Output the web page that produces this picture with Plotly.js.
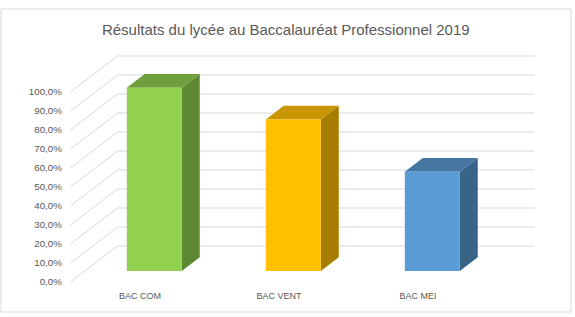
<!DOCTYPE html>
<html>
<head>
<meta charset="utf-8">
<script src="https://cdn.plot.ly/plotly-3.0.1.min.js"></script>
<style>
  html, body { margin: 0; padding: 0; background: #ffffff; }
  #chart { width: 575px; height: 317px; }
</style>
</head>
<body>
<div id="chart"></div>
<script>
// Results per diploma track (share of candidates passing)
const categories = ["BAC COM", "BAC VENT", "BAC MEI"];
const passRates = [0.965, 0.798, 0.523];
const frontColors = ["#92D050", "#FFC000", "#5B9BD5"];
const topColors = ["#6F9E3C", "#C79600", "#4676A2"];
const sideColors = ["#5E8832", "#A67D00", "#3A6388"];
const valueTicks = [0, 0.1, 0.2, 0.3, 0.4, 0.5, 0.6, 0.7, 0.8, 0.9, 1.0];

// Page geometry (pixels)
const W = 575, H = 317;
const L = 66, R = 548, T = 40, B = 289;
// Front plane: x pixel = X0 + XS * x ; y pixel = Y0 - YS * v
const X0 = 140, XS = 139, Y0 = 282, YS = 190;
// Oblique depth offset of the back wall, in data units
const DX = 47 / XS, DY = 36 / YS;
// Depth span occupied by the columns (fraction of the full depth)
const Z0 = 0.305, Z1 = 0.686;
const HALF = 0.198;
// Left/right limits of the walls on the front plane
const WALL_L = -0.5, WALL_R = 2.5;

const traces = [];
const gridColor = "#D9D9D9";

// Back wall horizontal gridlines
valueTicks.forEach(v => {
  traces.push({
    type: "scatter", mode: "lines", hoverinfo: "skip", showlegend: false,
    x: [WALL_L + DX, WALL_R + DX], y: [v + DY, v + DY],
    line: { color: gridColor, width: 1 }
  });
});
// Side wall slanted gridlines
valueTicks.forEach(v => {
  traces.push({
    type: "scatter", mode: "lines", hoverinfo: "skip", showlegend: false,
    x: [WALL_L, WALL_L + DX], y: [v, v + DY],
    line: { color: gridColor, width: 1 }
  });
});

// 3D columns: right, top and front faces
categories.forEach((c, i) => {
  const v = passRates[i];
  const xl0 = i - HALF + Z0 * DX, xr0 = i + HALF + Z0 * DX;
  const xl1 = i - HALF + Z1 * DX, xr1 = i + HALF + Z1 * DX;
  const b0 = Z0 * DY, b1 = Z1 * DY;
  traces.push({
    type: "scatter", mode: "lines", fill: "toself", hoverinfo: "skip", showlegend: false,
    x: [xr0, xr1, xr1, xr0, xr0], y: [b0, b1, v + b1, v + b0, b0],
    fillcolor: sideColors[i], line: { width: 0, color: sideColors[i] }
  });
  traces.push({
    type: "scatter", mode: "lines", fill: "toself", hoverinfo: "skip", showlegend: false,
    x: [xl0, xr0, xr1, xl1, xl0], y: [v + b0, v + b0, v + b1, v + b1, v + b0],
    fillcolor: topColors[i], line: { width: 0, color: topColors[i] }
  });
  traces.push({
    type: "scatter", mode: "lines", fill: "toself", name: c, showlegend: false,
    x: [xl0, xr0, xr0, xl0, xl0], y: [b0, b0, v + b0, v + b0, b0],
    fillcolor: frontColors[i], line: { width: 0, color: frontColors[i] },
    hoverinfo: "text", text: c + " : " + (v * 100).toFixed(1).replace(".", ",") + "%"
  });
});

const pw = R - L, ph = B - T;
const px = p => (p - L) / pw;
const py = p => (B - p) / ph;

const layout = {
  width: W, height: H,
  margin: { l: L, r: W - R, t: T, b: H - B, pad: 0 },
  paper_bgcolor: "#ffffff", plot_bgcolor: "rgba(0,0,0,0)",
  separators: ", ",
  showlegend: false,
  title: {
    text: "Résultats du lycée au Baccalauréat Professionnel 2019",
    font: { family: "Liberation Sans, Arial, sans-serif", size: 15, color: "#595959" },
    x: 0.497, xanchor: "center", xref: "container",
    y: 1 - 30 / H, yanchor: "middle", yref: "container"
  },
  xaxis: {
    range: [(L - X0) / XS, (R - X0) / XS],
    tickvals: [0, 1, 2], ticktext: categories,
    showgrid: false, zeroline: false, showline: false, ticks: "",
    tickfont: { family: "Liberation Sans, Arial, sans-serif", size: 9, color: "#595959" },
    fixedrange: true
  },
  yaxis: {
    range: [(Y0 - B) / YS, (Y0 - T) / YS],
    tickvals: valueTicks, tickformat: ".1%",
    showgrid: false, zeroline: false, showline: false, ticks: "",
    ticklabelstandoff: 3,
    tickfont: { family: "Liberation Sans, Arial, sans-serif", size: 9.8, color: "#595959" },
    fixedrange: true
  },
  shapes: [{
    type: "rect", xref: "paper", yref: "paper",
    x0: px(1), x1: px(571), y0: py(312), y1: py(9),
    line: { color: "#D9D9D9", width: 1 }, fillcolor: "rgba(0,0,0,0)", layer: "below"
  }]
};

Plotly.newPlot("chart", traces, layout, { displayModeBar: false, staticPlot: true });
</script>
</body>
</html>
